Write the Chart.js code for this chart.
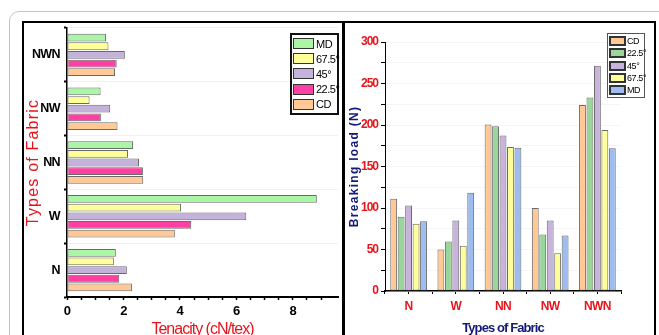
<!DOCTYPE html>
<html>
<head>
<meta charset="utf-8">
<script src="https://cdn.jsdelivr.net/npm/chart.js@4.4.1/dist/chart.umd.min.js"></script>
<style>
  html, body { margin: 0; padding: 0; background: #fff; }
  body { width: 659px; height: 335px; position: relative; overflow: hidden; }
  #outer { position: absolute; left: 9px; top: 11px; width: 720px; height: 400px; border: 1.5px solid #c4c4c4; border-radius: 10px; }
  #panelL { position: absolute; left: 22px; top: 21px; width: 318px; height: 400px; border: 2px solid #000; }
  #panelR { position: absolute; left: 342px; top: 21px; width: 309px; height: 400px; border: 2px solid #000; border-left-width: 3px; }
  #cL { position: absolute; left: 0; top: 0; }
  #cR { position: absolute; left: 342px; top: 0; }
  .legend { position: absolute; background: #fff; font-family: 'Liberation Sans', Arial, sans-serif; color: #000; }
  #legL { left: 290px; top: 33px; width: 45px; border: 2px solid #111; padding: 1px 0; }
  #legR { left: 607px; top: 33px; width: 36px; border: 1px solid #555; padding: 1px 0; }
  .item { display: flex; align-items: center; white-space: nowrap; }
  #legL .item { height: 15.2px; font-size: 11px; letter-spacing: -0.5px; }
  #legR .item { height: 12.3px; font-size: 9px; letter-spacing: -0.4px; }
  .sw { box-sizing: border-box; flex: none; }
  #legL .sw { width: 21px; height: 11px; margin: 0 2px 0 1px; border: 1.5px solid #333; }
  #legR .sw { width: 17px; height: 10px; margin: 0 1px 0 1px; border: 2px solid #333; }
</style>
</head>
<body>
<div id="outer"></div>
<div id="panelL"></div>
<div id="panelR"></div>
<canvas id="cL" width="340" height="335"></canvas>
<canvas id="cR" width="317" height="335"></canvas>
<div id="legL" class="legend"></div>
<div id="legR" class="legend"></div>
<script>
// ---- data ----
const categories = ['N', 'W', 'NN', 'NW', 'NWN'];
const seriesNames = ['CD', '22.5°', '45°', '67.5°', 'MD'];
// Tenacity (cN/tex), per series, over categories
const tenCD   = [2.30, 3.82, 2.70, 1.79, 1.70];
const ten225  = [1.85, 4.40, 2.69, 1.20, 1.76];
const ten45   = [2.12, 6.35, 2.55, 1.53, 2.05];
const ten675  = [1.66, 4.04, 2.16, 0.80, 1.47];
const tenMD   = [1.73, 8.85, 2.34, 1.19, 1.38];
// Breaking load (N), per series, over categories
const loadCD  = [111, 50, 200.5, 100, 224];
const load225 = [89.5, 59.5, 198.5, 68, 233];
const load45  = [103, 85, 187.5, 85, 271.5];
const load675 = [81, 54.5, 173.5, 45.5, 194];
const loadMD  = [84, 118.5, 172.5, 67, 172];
const tenTickLabels = [0, 2, 4, 6, 8];
const loadTickLabels = [0, 50, 100, 150, 200, 250, 300];

// ---- styles ----
const colL = { 'CD': '#ffc894', '22.5°': '#ff3fa2', '45°': '#c3b3da', '67.5°': '#ffff9a', 'MD': '#aaf5a6' };
const colR = { 'CD': '#ffc894', '22.5°': '#99d699', '45°': '#c8b3dc', '67.5°': '#ffff9a', 'MD': '#9dbcf0' };
const tenData = { 'CD': tenCD, '22.5°': ten225, '45°': ten45, '67.5°': ten675, 'MD': tenMD };
const loadData = { 'CD': loadCD, '22.5°': load225, '45°': load45, '67.5°': load675, 'MD': loadMD };

const SANS = "'Liberation Sans', Arial, sans-serif";

// letter-spacing per scale part (title / labels)
function spacing(map) {
  return {
    id: 'spacing',
    beforeDraw(chart) {
      Object.keys(map).forEach(id => {
        const s = chart.scales[id];
        if (!s || s._spaced) return;
        const cfg = map[id];
        ['drawTitle', 'drawLabels'].forEach(fn => {
          const key = fn === 'drawTitle' ? 'title' : 'labels';
          if (cfg[key] === undefined) return;
          const orig = s[fn];
          s[fn] = function (...a) {
            const c = this.ctx; c.save(); c.letterSpacing = cfg[key]; orig.apply(this, a); c.restore();
          };
        });
        s._spaced = true;
      });
    }
  };
}

// ---- left chart: horizontal bars ----
const leftOrder = seriesNames.slice().reverse(); // MD at top of each band
new Chart(document.getElementById('cL'), {
  type: 'bar',
  data: {
    labels: categories,
    datasets: leftOrder.map(n => ({
      label: n, data: tenData[n], backgroundColor: colL[n],
      borderColor: '#6a6a6a', borderWidth: 1, borderSkipped: false,
      categoryPercentage: 0.805, barPercentage: 0.9
    }))
  },
  options: {
    indexAxis: 'y', responsive: false, animation: false, devicePixelRatio: 1,
    layout: { padding: { top: 28, right: 2, left: 0, bottom: 0 } },
    plugins: { legend: { display: false }, tooltip: { enabled: false } },
    scales: {
      x: {
        type: 'linear', min: 0, max: 9.6,
        afterFit(s) { s.height = 38; },
        afterBuildTicks(s) { s.ticks = s.ticks.filter(t => Math.abs(t.value * 2 - Math.round(t.value * 2)) < 1e-6); },
        ticks: { stepSize: 0.5, autoSkip: false, maxRotation: 0, color: '#000', padding: 4,
          font: { family: SANS, size: 13, weight: 'bold' },
          callback: v => tenTickLabels.includes(v) ? String(v) : '' },
        grid: { display: true, drawOnChartArea: false, tickLength: 3, color: '#000', tickWidth: 1.5 },
        border: { display: true, color: '#000', width: 2 },
        title: { display: true, text: 'Tenacity (cN/tex)', color: '#e8141c',
          font: { family: SANS, size: 16 }, padding: { top: 0, bottom: -4 } }
      },
      y: {
        type: 'category', reverse: true,
        afterFit(s) { s.width = 67; },
        ticks: { color: '#000', padding: 4, font: { family: SANS, size: 12.5, weight: 'bold' } },
        grid: { display: true, drawOnChartArea: true, offset: true, tickLength: 3, color: '#f1f1f1', tickColor: '#000', tickWidth: 2 },
        border: { display: true, color: '#000', width: 1.5 },
        title: { display: true, text: 'Types of Fabric', color: '#e8141c',
          font: { family: SANS, size: 16 }, padding: { top: 24, bottom: 0 } }
      }
    }
  },
  plugins: [spacing({ x: { title: '-1px', labels: '-0.6px' }, y: { title: '1.2px', labels: '-0.6px' } })]
});

// ---- right chart: vertical bars ----
new Chart(document.getElementById('cR'), {
  type: 'bar',
  data: {
    labels: categories,
    datasets: seriesNames.map(n => ({
      label: n, data: loadData[n], backgroundColor: colR[n],
      borderColor: '#6a6a6a', borderWidth: 1, borderSkipped: false,
      categoryPercentage: 0.79, barPercentage: 0.92
    }))
  },
  options: {
    responsive: false, animation: false, devicePixelRatio: 1,
    layout: { padding: { top: 42, right: 38, left: 0, bottom: 0 } },
    plugins: { legend: { display: false }, tooltip: { enabled: false } },
    scales: {
      x: {
        type: 'category', weight: 1,
        afterFit(s) { s.height = 44; },
        ticks: { color: '#e8141c', padding: 5, font: { family: SANS, size: 12, weight: 'bold' } },
        grid: { display: true, drawOnChartArea: false, offset: true, tickLength: 3, color: '#000', tickWidth: 1 },
        border: { display: true, color: '#000', width: 1.5 },
        title: { display: true, text: 'Types of Fabric', color: '#141a78',
          font: { family: SANS, size: 13, weight: 'bold' }, padding: { top: 0, bottom: -1 } }
      },
      x2: {
        type: 'category', position: 'bottom', weight: 0, labels: categories, offset: true,
        afterFit(s) { s.height = 0; },
        ticks: { display: false },
        grid: { display: true, drawOnChartArea: false, offset: false, tickLength: 3, color: '#000', tickWidth: 1 },
        border: { display: false }
      },
      y: {
        type: 'linear', min: 0, max: 300,
        afterFit(s) { s.width = 43; },
        ticks: { stepSize: 25, autoSkip: false, color: '#e8141c', padding: 3,
          font: { family: SANS, size: 12, weight: 'bold' },
          callback: v => loadTickLabels.includes(v) ? String(v) : '' },
        grid: { display: true, drawOnChartArea: true, tickLength: 4, color: '#f5f5f5', tickColor: '#000', tickWidth: 1 },
        border: { display: true, color: '#000', width: 1 },
        title: { display: true, text: 'Breaking load (N)', color: '#141a78',
          font: { family: SANS, size: 12, weight: 'bold' }, padding: { top: 5, bottom: 0 } }
      }
    }
  },
  plugins: [spacing({ x: { title: '-0.9px', labels: '-0.6px' }, y: { title: '1.3px', labels: '-1px' } })]
});

// ---- legends (HTML) ----
function buildLegend(el, order, cols) {
  order.forEach(n => {
    const it = document.createElement('div'); it.className = 'item';
    const sw = document.createElement('span'); sw.className = 'sw'; sw.style.background = cols[n];
    const tx = document.createElement('span'); tx.textContent = n;
    it.appendChild(sw); it.appendChild(tx); el.appendChild(it);
  });
}
buildLegend(document.getElementById('legL'), leftOrder, colL);
buildLegend(document.getElementById('legR'), seriesNames, colR);
</script>
</body>
</html>
